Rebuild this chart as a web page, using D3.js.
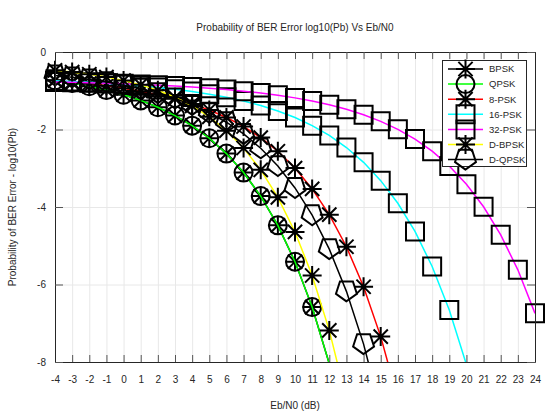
<!DOCTYPE html>
<html><head><meta charset="utf-8">
<script src="https://cdn.jsdelivr.net/npm/d3@7"></script>
<style>
body{margin:0;background:#fff;}
text{font-family:"Liberation Sans",Arial,sans-serif;}
</style></head>
<body><svg id="chart" width="560" height="420"></svg>
<script>
// ---- data (log10 of bit error probability vs Eb/N0 in dB) ----
const ebn0 = [-4,-3,-2,-1,0,1,2,3,4,5,6,7,8,9,10,11,12,13,14,15,16,17,18,19,20,21,22,23,24];
const bpsk  = [-0.730,-0.800,-0.884,-0.983,-1.104,-1.249,-1.426,-1.640,-1.902,-2.225,-2.622,-3.112,-3.719,-4.473,-5.412,-6.583,-8.045,-9.876];
const qpsk  = [-0.730,-0.800,-0.884,-0.983,-1.104,-1.249,-1.426,-1.640,-1.902,-2.225,-2.622,-3.112,-3.719,-4.473,-5.412,-6.583,-8.045,-9.876];
const psk8  = [-0.733,-0.772,-0.817,-0.871,-0.935,-1.010,-1.100,-1.208,-1.339,-1.496,-1.689,-1.923,-2.209,-2.561,-2.995,-3.533,-4.198,-5.026,-6.058,-7.345,-8.955];
const psk16 = [-0.740,-0.759,-0.782,-0.808,-0.838,-0.873,-0.914,-0.963,-1.020,-1.088,-1.169,-1.266,-1.382,-1.523,-1.692,-1.901,-2.154,-2.465,-2.848,-3.320,-3.904,-4.630,-5.534,-6.660,-8.067];
const psk32 = [-0.772,-0.782,-0.793,-0.806,-0.820,-0.837,-0.856,-0.878,-0.904,-0.934,-0.970,-1.011,-1.059,-1.116,-1.184,-1.265,-1.362,-1.478,-1.619,-1.789,-1.996,-2.248,-2.559,-2.940,-3.412,-3.994,-4.719,-5.621,-6.745];
const dbpsk = [-0.474,-0.519,-0.575,-0.646,-0.735,-0.848,-0.989,-1.168,-1.392,-1.674,-2.030,-2.478,-3.041,-3.751,-4.644,-5.768,-7.184,-8.966];
const dqpsk = [-0.607,-0.654,-0.710,-0.776,-0.855,-0.949,-1.062,-1.199,-1.365,-1.567,-1.813,-2.114,-2.485,-2.943,-3.509,-4.212,-5.087,-6.177,-7.538,-9.240];

const seriesNames = ["BPSK","QPSK","8-PSK","16-PSK","32-PSK","D-BPSK","D-QPSK"];
const xTicks = [-4,-3,-2,-1,0,1,2,3,4,5,6,7,8,9,10,11,12,13,14,15,16,17,18,19,20,21,22,23,24];
const yTicks = [-8,-6,-4,-2,0];
const titleText = "Probability of BER Error log10(Pb) Vs Eb/N0";
const xLabel = "Eb/N0 (dB)";
const yLabel = "Probability of BER Error - log10(Pb)";

// ---- styling ----
const seriesValues = [bpsk,qpsk,psk8,psk16,psk32,dbpsk,dqpsk];
const seriesColors = ["#000000","#00ff00","#ff0000","#00ffff","#ff00ff","#ffff00","#000000"];
const seriesMarkers = ["asterisk","circle","asterisk","square","square","asterisk","pentagon"];

const L=55, R=535, T=52, B=362;
const svg = d3.select("#chart");
const x = d3.scaleLinear().domain([-4,24]).range([L,R]);
const y = d3.scaleLinear().domain([-8,0]).range([B,T]);
const fmt = d=>String(d);

// grid
const grid = svg.append("g");
grid.append("g").attr("transform",`translate(0,${B})`)
  .call(d3.axisBottom(x).tickValues(xTicks).tickSize(-(B-T)).tickFormat(""))
  .call(g=>{g.select(".domain").remove(); g.selectAll("line").attr("stroke","#e8e8e8");});
grid.append("g").attr("transform",`translate(${L},0)`)
  .call(d3.axisLeft(y).tickValues([-6,-4,-2]).tickSize(-(R-L)).tickFormat(""))
  .call(g=>{g.select(".domain").remove(); g.selectAll("line").attr("stroke","#e8e8e8");});

// clip
svg.append("defs").append("clipPath").attr("id","clip")
  .append("rect").attr("x",L).attr("y",T).attr("width",R-L).attr("height",B-T);

function markerPath(type){
  const p = d3.path();
  if(type==="asterisk"){
    const r=9.5, d=r*0.75;
    p.moveTo(-r,0);p.lineTo(r,0);p.moveTo(0,-r);p.lineTo(0,r);
    p.moveTo(-d,-d);p.lineTo(d,d);p.moveTo(-d,d);p.lineTo(d,-d);
  } else if(type==="circle"){
    p.arc(0,0,9,0,2*Math.PI);
  } else if(type==="square"){
    p.rect(-9,-9,18,18);
  } else if(type==="pentagon"){
    const r=11;
    for(let i=0;i<5;i++){
      const a=Math.PI/2+i*2*Math.PI/5;
      const px=r*Math.cos(a), py=r*Math.sin(a)-1;
      if(i===0)p.moveTo(px,py);else p.lineTo(px,py);
    }
    p.closePath();
  }
  return p.toString();
}

const line = d3.line().x(d=>x(d[0])).y(d=>y(d[1]));
const plot = svg.append("g");
seriesValues.forEach((vals,i)=>{
  const pts = vals.map((v,j)=>[ebn0[j],v]);
  const g = plot.append("g");
  g.append("path").datum(pts).attr("clip-path","url(#clip)")
    .attr("d",line).attr("fill","none").attr("stroke",seriesColors[i]).attr("stroke-width",1.5);
  g.selectAll("path.m").data(pts.filter(d=>d[1]>=-8 && d[1]<=0)).join("path").attr("class","m")
    .attr("transform",d=>`translate(${x(d[0])},${y(d[1])})`)
    .attr("d",markerPath(seriesMarkers[i]))
    .attr("fill","none").attr("stroke","#000").attr("stroke-width",2);
});

// axes
const axCol="#262626";
function styleAxis(g){g.select(".domain").attr("stroke",axCol); g.selectAll(".tick line").attr("stroke","#555");
  g.selectAll("text").attr("fill","#262626").attr("font-size","10px").attr("font-family","Liberation Sans, Arial, sans-serif");}
svg.append("g").attr("transform",`translate(0,${B})`)
  .call(d3.axisBottom(x).tickValues(xTicks).tickSizeInner(-7).tickSizeOuter(0).tickPadding(14).tickFormat(fmt)).call(styleAxis);
svg.append("g").attr("transform",`translate(0,${T})`)
  .call(d3.axisTop(x).tickValues(xTicks).tickSizeInner(-7).tickSizeOuter(0).tickFormat("")).call(styleAxis);
svg.append("g").attr("transform",`translate(${L},0)`)
  .call(d3.axisLeft(y).tickValues(yTicks).tickSizeInner(-8).tickSizeOuter(0).tickPadding(9).tickFormat(fmt)).call(styleAxis);
svg.append("g").attr("transform",`translate(${R},0)`)
  .call(d3.axisRight(y).tickValues(yTicks).tickSizeInner(-8).tickSizeOuter(0).tickFormat("")).call(styleAxis);

// title & labels
svg.append("text").attr("x",(L+R)/2).attr("y",31).attr("text-anchor","middle")
  .attr("font-size","10px").attr("fill","#262626").text(titleText);
svg.append("text").attr("x",(L+R)/2).attr("y",409).attr("text-anchor","middle")
  .attr("font-size","10px").attr("fill","#262626").text(xLabel);
svg.append("text").attr("transform",`translate(16,${(T+B)/2}) rotate(-90)`).attr("text-anchor","middle")
  .attr("font-size","10px").attr("fill","#262626").text(yLabel);

// legend
const lg = svg.append("g");
lg.append("rect").attr("x",442.5).attr("y",60.5).attr("width",84).attr("height",106)
  .attr("fill","#fff").attr("stroke",axCol).attr("stroke-width",1);
seriesNames.forEach((name,i)=>{
  const yy = 69 + i*15.1;
  lg.append("line").attr("x1",448).attr("x2",483).attr("y1",yy).attr("y2",yy)
    .attr("stroke",seriesColors[i]).attr("stroke-width",1.5);
  lg.append("path").attr("transform",`translate(465.5,${yy})`).attr("d",markerPath(seriesMarkers[i]))
    .attr("fill","none").attr("stroke","#000").attr("stroke-width",2);
  lg.append("text").attr("x",489).attr("y",yy).attr("dy","0.35em")
    .attr("font-size","9.5px").attr("fill","#262626").text(name);
});
</script></body></html>
